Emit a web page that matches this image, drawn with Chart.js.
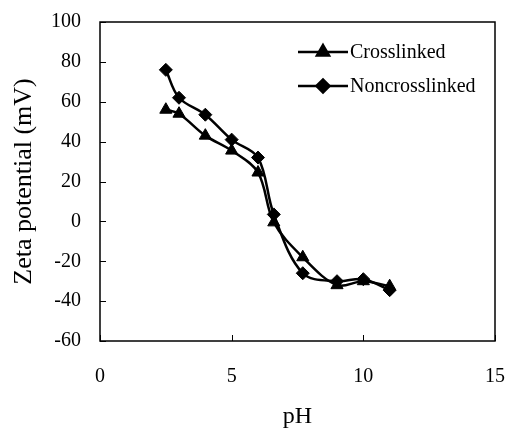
<!DOCTYPE html>
<html>
<head>
<meta charset="utf-8">
<script src="https://cdn.jsdelivr.net/npm/chart.js@4/dist/chart.umd.min.js"></script>
<style>
html,body{margin:0;padding:0;background:#fff;}
#wrap{width:507px;height:429px;}
</style>
</head>
<body>
<div id="wrap"><canvas id="c" width="507" height="429"></canvas></div>
<script>
const pHCross = [2.5, 3, 4, 5, 6, 6.6, 7.7, 9, 10, 11];
const zetaCross = [56, 54, 43, 35.5, 24.5, -0.5, -18, -32, -30, -32.5];
const pHNon = [2.5, 3, 4, 5, 6, 6.6, 7.7, 9, 10, 11];
const zetaNon = [76, 62, 53.5, 41, 32, 3.5, -26, -30, -29, -34.5];
const xTicks = [0, 5, 10, 15];
const yTicks = [-60, -40, -20, 0, 20, 40, 60, 80, 100];
const seriesNames = ['Crosslinked', 'Noncrosslinked'];

const FONT = '"Liberation Serif", "Times New Roman", serif';

const toPts = (xs, ys) => xs.map((x, i) => ({x: x, y: ys[i]}));

const framePlugin = {
  id: 'frame',
  afterDraw(chart) {
    const ctx = chart.ctx;
    const a = chart.chartArea;
    const xs = chart.scales.x, ys = chart.scales.y;
    ctx.save();
    ctx.strokeStyle = '#000';
    ctx.lineWidth = 1.5;
    ctx.strokeRect(a.left, a.top, a.right - a.left, a.bottom - a.top);
    ctx.lineWidth = 1;
    ctx.beginPath();
    yTicks.forEach(v => {
      const y = Math.round(ys.getPixelForValue(v)) + 0.5;
      ctx.moveTo(a.left, y); ctx.lineTo(a.left + 6, y);
    });
    xTicks.forEach(v => {
      const x = Math.round(xs.getPixelForValue(v)) + 0.5;
      ctx.moveTo(x, a.bottom); ctx.lineTo(x, a.bottom - 6);
    });
    ctx.stroke();
    // legend
    const entries = chart.data.datasets;
    const lx0 = a.left + 198, lx1 = a.left + 248;
    const rows = [a.top + 30, a.top + 64];
    entries.forEach((ds, i) => {
      const y = rows[i];
      ctx.strokeStyle = '#000';
      ctx.lineWidth = 2.5;
      ctx.beginPath(); ctx.moveTo(lx0, y); ctx.lineTo(lx1, y); ctx.stroke();
      Chart.helpers.drawPoint(ctx, {pointStyle: ds.pointStyle, radius: ds.pointRadius, borderWidth: 1}, (lx0 + lx1) / 2, y);
      ctx.fillStyle = '#000';
      ctx.font = '20px ' + FONT;
      ctx.textAlign = 'left';
      ctx.textBaseline = 'middle';
      ctx.fillText(ds.label, lx1 + 2, y + 1);
    });
    ctx.restore();
  }
};

new Chart(document.getElementById('c'), {
  type: 'scatter',
  data: {
    datasets: [
      {
        label: seriesNames[0],
        data: toPts(pHCross, zetaCross),
        showLine: true,
        borderColor: '#000',
        backgroundColor: '#000',
        borderWidth: 2.5,
        pointStyle: 'triangle',
        pointRadius: 7,
        pointBorderWidth: 1,
        tension: 0.35
      },
      {
        label: seriesNames[1],
        data: toPts(pHNon, zetaNon),
        showLine: true,
        borderColor: '#000',
        backgroundColor: '#000',
        borderWidth: 2.5,
        pointStyle: 'rectRot',
        pointRadius: 6.5,
        pointBorderWidth: 1,
        tension: 0.35
      }
    ]
  },
  options: {
    responsive: false,
    animation: false,
    devicePixelRatio: 1,
    layout: {padding: {left: 0, top: 22, right: 12, bottom: 0}},
    plugins: {legend: {display: false}, tooltip: {enabled: false}},
    scales: {
      x: {
        type: 'linear', min: 0, max: 15,
        afterBuildTicks: s => { s.ticks = xTicks.map(v => ({value: v})); },
        afterFit: s => { s.height = 88; s.paddingLeft = 0; s.paddingRight = 0; },
        grid: {display: false, drawTicks: false},
        border: {display: false},
        ticks: {color: '#000', font: {family: FONT, size: 20}, padding: 24, maxRotation: 0},
        title: {display: true, text: 'pH', color: '#000', font: {family: FONT, size: 24, lineHeight: 1.0}, padding: {top: 0, bottom: 0}}
      },
      y: {
        type: 'linear', min: -60, max: 100,
        afterBuildTicks: s => { s.ticks = yTicks.map(v => ({value: v})); },
        afterFit: s => { s.width = 100; s.paddingTop = 0; s.paddingBottom = 0; },
        grid: {display: false, drawTicks: false},
        border: {display: false},
        ticks: {color: '#000', font: {family: FONT, size: 20}, padding: 19},
        title: {display: true, text: 'Zeta potential (mV)', color: '#000', font: {family: FONT, size: 26}, padding: {top: 9, bottom: 0}}
      }
    }
  },
  plugins: [framePlugin]
});
</script>
</body>
</html>
